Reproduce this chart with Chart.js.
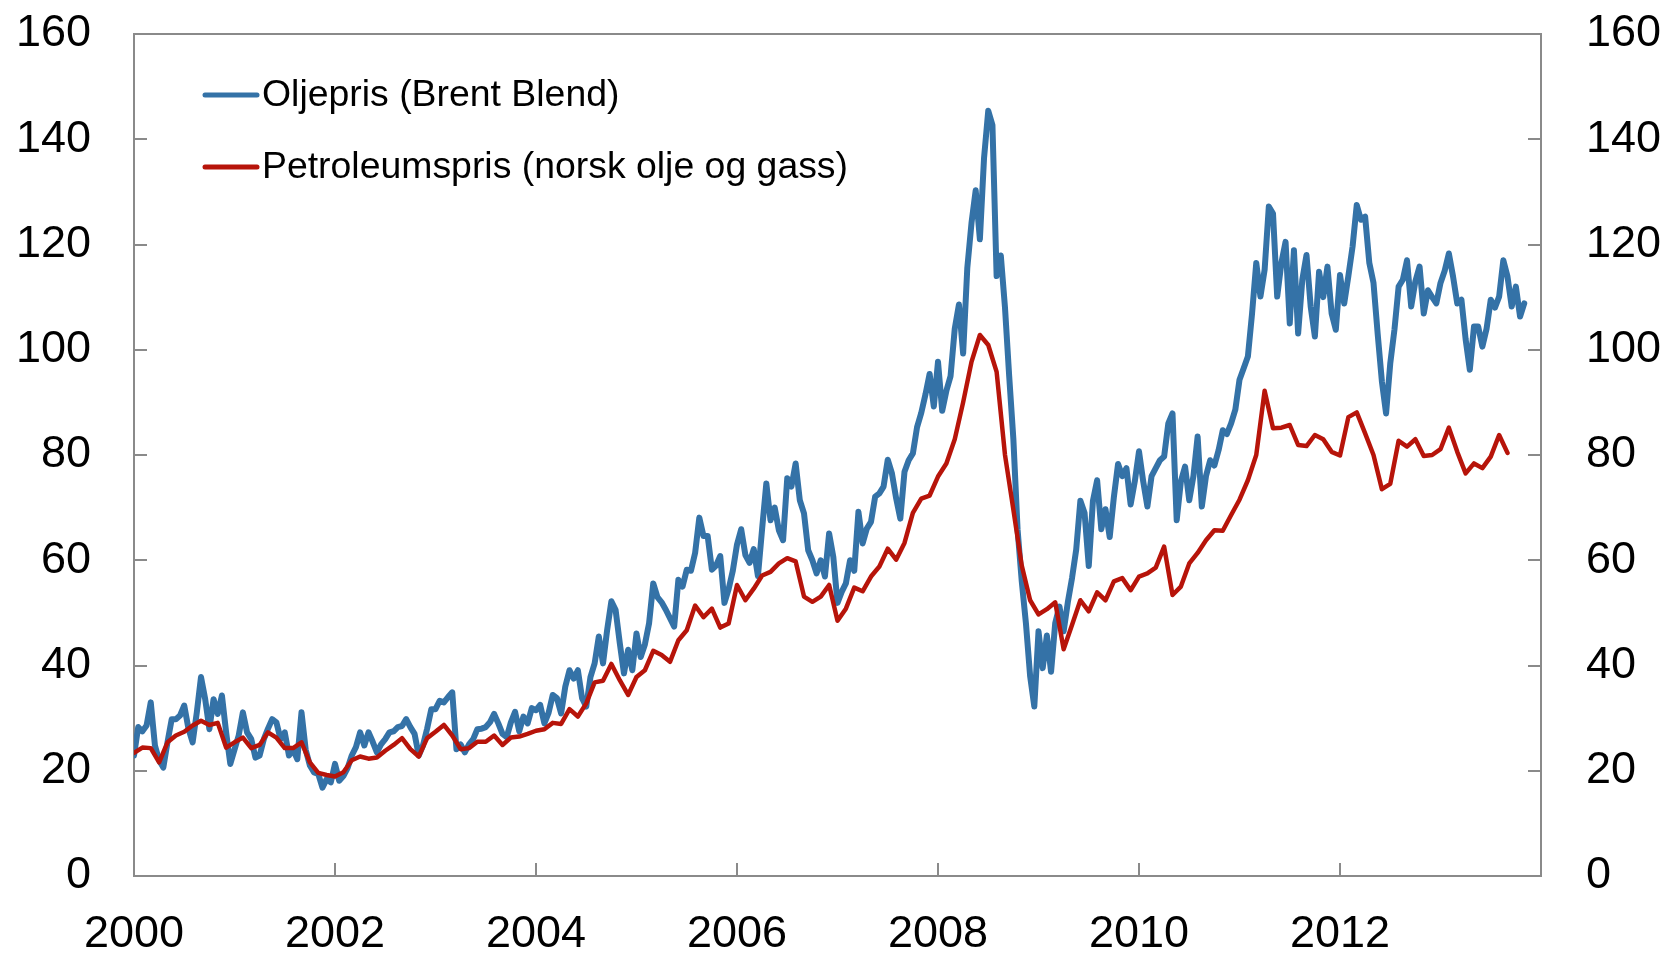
<!DOCTYPE html>
<html>
<head>
<meta charset="utf-8">
<script src="https://cdn.jsdelivr.net/npm/chart.js@4.4.1/dist/chart.umd.min.js"></script>
<style>
  html, body { margin: 0; padding: 0; background: #ffffff; }
  #wrap { width: 1665px; height: 954px; }
</style>
</head>
<body>
<div id="wrap"><canvas id="c" width="1665" height="954"></canvas></div>
<script>
// ---- Series labels ----
const brentLabel = 'Oljepris (Brent Blend)';
const petroLabel = 'Petroleumspris (norsk olje og gass)';

// ---- Brent Blend, USD per barrel, two readings per month (1st and 16th) ----
const brent2000 = [22.9, 28.3, 27.5, 28.6, 33, 24.8, 22, 20.6, 25.4, 29.8, 29.8, 30.5, 32.4, 28, 25.4, 31.1, 37.8, 33.6, 27.9, 33.6, 30.8, 34.3, 27.3, 21.3];
const brent2001 = [24, 26.7, 31.1, 27.3, 26, 22.5, 22.9, 26, 28, 29.8, 29.2, 26, 27.3, 22.9, 24, 22.2, 31.1, 24, 21, 19.7, 19.4, 16.8, 18.4, 17.8];
const brent2002 = [21.3, 18.1, 19, 20.5, 22.9, 24.5, 27.3, 24.8, 27.3, 25.5, 23.5, 25, 26, 27.3, 27.5, 28.3, 28.5, 29.8, 28.3, 27, 22.9, 24.8, 28, 31.7];
const brent2003 = [31.7, 33.3, 33, 34, 34.9, 24.1, 25, 23.5, 25, 26, 27.9, 28, 28.3, 29.2, 30.8, 29, 27, 26.4, 29.2, 31.2, 27.5, 30.3, 29, 31.9];
const brent2004 = [31.5, 32.5, 29, 31, 34.4, 33.8, 30.9, 36, 39.1, 37.5, 39.1, 33.8, 32.2, 37.8, 40.4, 45.5, 40.4, 46.8, 52.2, 50.6, 44.3, 38.5, 43, 39.1];
const brent2005 = [46.1, 41.6, 44, 48, 55.6, 53, 52, 50.6, 49, 47.4, 56.3, 55, 58.2, 58, 61.4, 68.1, 64.6, 64.6, 58.2, 59, 60.8, 51.9, 54.5, 58];
const brent2006 = [63, 65.9, 61, 59.5, 62.1, 57, 66, 74.6, 67.6, 70, 65.7, 63.8, 75.6, 74, 78.4, 71.4, 68.9, 61.9, 60, 57.5, 60, 56.9, 65.1, 60.6];
const brent2007 = [51.9, 54, 55.6, 60, 58, 69.2, 63.2, 66, 67.3, 72.1, 72.7, 74, 79.1, 76.5, 71.8, 67.9, 76.8, 79, 80.3, 85.3, 88, 91.5, 95.4, 89.2];
const brent2008 = [97.7, 88.4, 92.2, 95, 104, 108.6, 99.3, 115.6, 124.1, 130.3, 121, 136.5, 145.4, 142.7, 114, 117.9, 108, 95, 83, 65.9, 56, 48, 38, 32.2];
const brent2009 = [46.5, 39.5, 45.7, 38.8, 48.1, 51.2, 46.5, 52, 56.6, 62, 71.3, 69, 58.9, 71.3, 75.2, 65.9, 69.7, 64.4, 72, 78.3, 76, 77.5, 70.6, 75];
const brent2010 = [80.7, 75, 70.2, 76, 77.5, 79, 79.7, 86, 87.9, 67.6, 75, 77.8, 71.4, 76, 83.5, 70.2, 76, 79, 78, 80.9, 84.7, 84, 86, 88.6];
const brent2011 = [94.3, 96.5, 98.7, 106.9, 116.5, 110.1, 115.2, 127.2, 125.9, 110.1, 116.5, 120.5, 105, 118.9, 103.1, 113.3, 118, 108.2, 102.5, 114.8, 110, 115.8, 106.9, 103.8];
const brent2012 = [114.2, 108.8, 114, 119.6, 127.5, 124.7, 125.3, 116.5, 112.7, 103, 94, 87.9, 97.4, 103.8, 112, 113.3, 117, 108.2, 113, 115.8, 106.9, 111.3, 110, 108.8];
const brent2013 = [112.7, 115, 118.3, 113.9, 108.8, 109.5, 102, 96.2, 104.4, 104.4, 100.6, 104, 109.5, 108, 110.1, 117, 113.9, 108.2, 112, 106.3, 108.8];

// ---- Petroleum price (Norwegian oil and gas), monthly ----
const petro2000 = [23.4, 24.4, 24.3, 21.6, 25.4, 26.7, 27.4, 28.6, 29.5, 28.7, 29.1, 24.4];
const petro2001 = [25.4, 26.3, 24.3, 24.9, 27.3, 26.3, 24.3, 24.3, 25.4, 21.6, 19.6, 19.2];
const petro2002 = [18.9, 19.7, 22.0, 22.7, 22.3, 22.5, 23.8, 24.9, 26.2, 24.1, 22.7, 26.2];
const petro2003 = [27.4, 28.7, 26.7, 24.1, 24.3, 25.5, 25.5, 26.7, 24.9, 26.3, 26.5, 27.0];
const petro2004 = [27.6, 27.9, 29.1, 28.9, 31.7, 30.3, 32.8, 36.8, 37.1, 40.3, 37.2, 34.4];
const petro2005 = [37.8, 39.1, 42.8, 42.0, 40.7, 44.8, 46.7, 51.4, 49.2, 50.8, 47.2, 48.0];
const petro2006 = [55.3, 52.4, 54.6, 57.1, 57.8, 59.4, 60.4, 59.8, 53.1, 52.1, 53.1, 55.3];
const petro2007 = [48.5, 50.8, 54.8, 54.1, 56.9, 58.8, 62.2, 60.1, 63.3, 69.0, 71.7, 72.3];
const petro2008 = [75.9, 78.4, 83.0, 90.0, 97.7, 102.8, 100.9, 95.8, 80.0, 69.6, 59.0, 52.4];
const petro2009 = [49.7, 50.7, 52.0, 43.1, 47.7, 52.4, 50.3, 53.9, 52.4, 56.0, 56.6, 54.3];
const petro2010 = [56.9, 57.5, 58.6, 62.6, 53.4, 55.0, 59.4, 61.4, 63.8, 65.7, 65.6, 68.6];
const petro2011 = [71.5, 75.2, 80.0, 92.2, 85.1, 85.2, 85.7, 81.9, 81.7, 83.8, 83.0, 80.6];
const petro2012 = [79.9, 87.2, 88.1, 84.1, 80.0, 73.5, 74.5, 82.7, 81.6, 83.0, 79.8, 80.0];
const petro2013 = [81.1, 85.2, 80.6, 76.5, 78.4, 77.5, 79.7, 83.8, 80.4];

// ---- Axis ticks ----
const yearTicks = [2000, 2002, 2004, 2006, 2008, 2010, 2012, 2014];
const yearLabels = ['2000', '2002', '2004', '2006', '2008', '2010', '2012', ''];
const valueTicks = [0, 20, 40, 60, 80, 100, 120, 140, 160];

// ---- Build point lists (year + fraction of year) ----
const brentYears = [brent2000, brent2001, brent2002, brent2003, brent2004, brent2005, brent2006,
                    brent2007, brent2008, brent2009, brent2010, brent2011, brent2012, brent2013];
const petroYears = [petro2000, petro2001, petro2002, petro2003, petro2004, petro2005, petro2006,
                    petro2007, petro2008, petro2009, petro2010, petro2011, petro2012, petro2013];
const brentPoints = [];
brentYears.forEach((arr, yi) => arr.forEach((v, k) => brentPoints.push({ x: 2000 + yi + k / 24, y: v })));
const petroPoints = [];
petroYears.forEach((arr, yi) => arr.forEach((v, k) => petroPoints.push({ x: 2000 + yi + k / 12, y: v })));

const FONT = "'Liberation Sans', Arial, Helvetica, sans-serif";
const AXIS_GREY = '#8a8a8a';
const BLUE = 'rgb(52,114,167)';
const RED = 'rgb(183,20,10)';

// frame: top border + inner tick marks
const framePlugin = {
  id: 'frame',
  beforeDatasetsDraw(chart) {
    const { ctx, chartArea: a, scales } = chart;
    ctx.save();
    ctx.strokeStyle = AXIS_GREY;
    ctx.lineWidth = 2;
    ctx.beginPath();
    ctx.moveTo(a.left, a.top); ctx.lineTo(a.right, a.top);
    const tl = 13;
    valueTicks.forEach(v => {
      if (v === 0 || v === 160) return;
      const y = Math.round(scales.y.getPixelForValue(v));
      ctx.moveTo(a.left, y); ctx.lineTo(a.left + tl, y);
      ctx.moveTo(a.right, y); ctx.lineTo(a.right - tl, y);
    });
    yearTicks.forEach(t => {
      if (t === 2000 || t === 2014) return;
      const x = Math.round(scales.x.getPixelForValue(t));
      ctx.moveTo(x, a.bottom); ctx.lineTo(x, a.bottom - tl);
    });
    ctx.stroke();
    ctx.restore();
  }
};

// legend drawn inside the plot, top-left
const legendPlugin = {
  id: 'insideLegend',
  afterDraw(chart) {
    const { ctx } = chart;
    const rows = [0, 1];
    const ys = [95, 167];
    ctx.save();
    rows.forEach((di, r) => {
      const ds = chart.data.datasets[di];
      ctx.strokeStyle = ds.borderColor;
      ctx.lineWidth = 5;
      ctx.lineCap = 'round';
      ctx.beginPath();
      ctx.moveTo(205, ys[r]); ctx.lineTo(257, ys[r]);
      ctx.stroke();
      ctx.fillStyle = '#000';
      ctx.font = '37.4px ' + FONT;
      ctx.textBaseline = 'middle';
      ctx.textAlign = 'left';
      ctx.fillText(ds.label, 262, ys[r] + 1);
    });
    ctx.restore();
  }
};

const valueAxis = (position, pad, width) => ({
  type: 'linear',
  position,
  min: 0, max: 160,
  afterBuildTicks: s => { s.ticks = valueTicks.map(v => ({ value: v })); },
  ticks: { padding: pad, color: '#000', font: { family: FONT, size: 45 }, callback: v => String(v) },
  grid: { display: false, drawTicks: false },
  border: { display: true, color: AXIS_GREY, width: 2 },
  afterFit: s => { s.width = width; s.paddingTop = 0; s.paddingBottom = 0; }
});

new Chart(document.getElementById('c'), {
  type: 'line',
  data: {
    datasets: [
      { label: brentLabel, data: brentPoints, borderColor: BLUE, backgroundColor: BLUE,
        borderWidth: 6, pointRadius: 0, tension: 0, order: 1, yAxisID: 'y',
        borderJoinStyle: 'round', borderCapStyle: 'round' },
      { label: petroLabel, data: petroPoints, borderColor: RED, backgroundColor: RED,
        borderWidth: 4.5, pointRadius: 0, tension: 0, order: 0, yAxisID: 'y',
        borderJoinStyle: 'round', borderCapStyle: 'round' }
    ]
  },
  options: {
    responsive: false,
    animation: false,
    layout: { padding: { top: 34, left: 0, right: 0, bottom: 0 } },
    plugins: { legend: { display: false }, tooltip: { enabled: false } },
    scales: {
      x: {
        type: 'linear', position: 'bottom', min: 2000, max: 2014,
        afterBuildTicks: s => { s.ticks = yearTicks.map(v => ({ value: v })); },
        ticks: { padding: 32, color: '#000', maxRotation: 0, autoSkip: false,
                 font: { family: FONT, size: 45 },
                 callback: (v) => yearLabels[yearTicks.indexOf(v)] },
        grid: { display: false, drawTicks: false },
        border: { display: true, color: AXIS_GREY, width: 2 },
        afterFit: s => { s.height = 78; s.paddingLeft = 0; s.paddingRight = 0; }
      },
      y: valueAxis('left', 43, 134),
      y2: valueAxis('right', 45, 124)
    }
  },
  plugins: [framePlugin, legendPlugin]
});
</script>
</body>
</html>
